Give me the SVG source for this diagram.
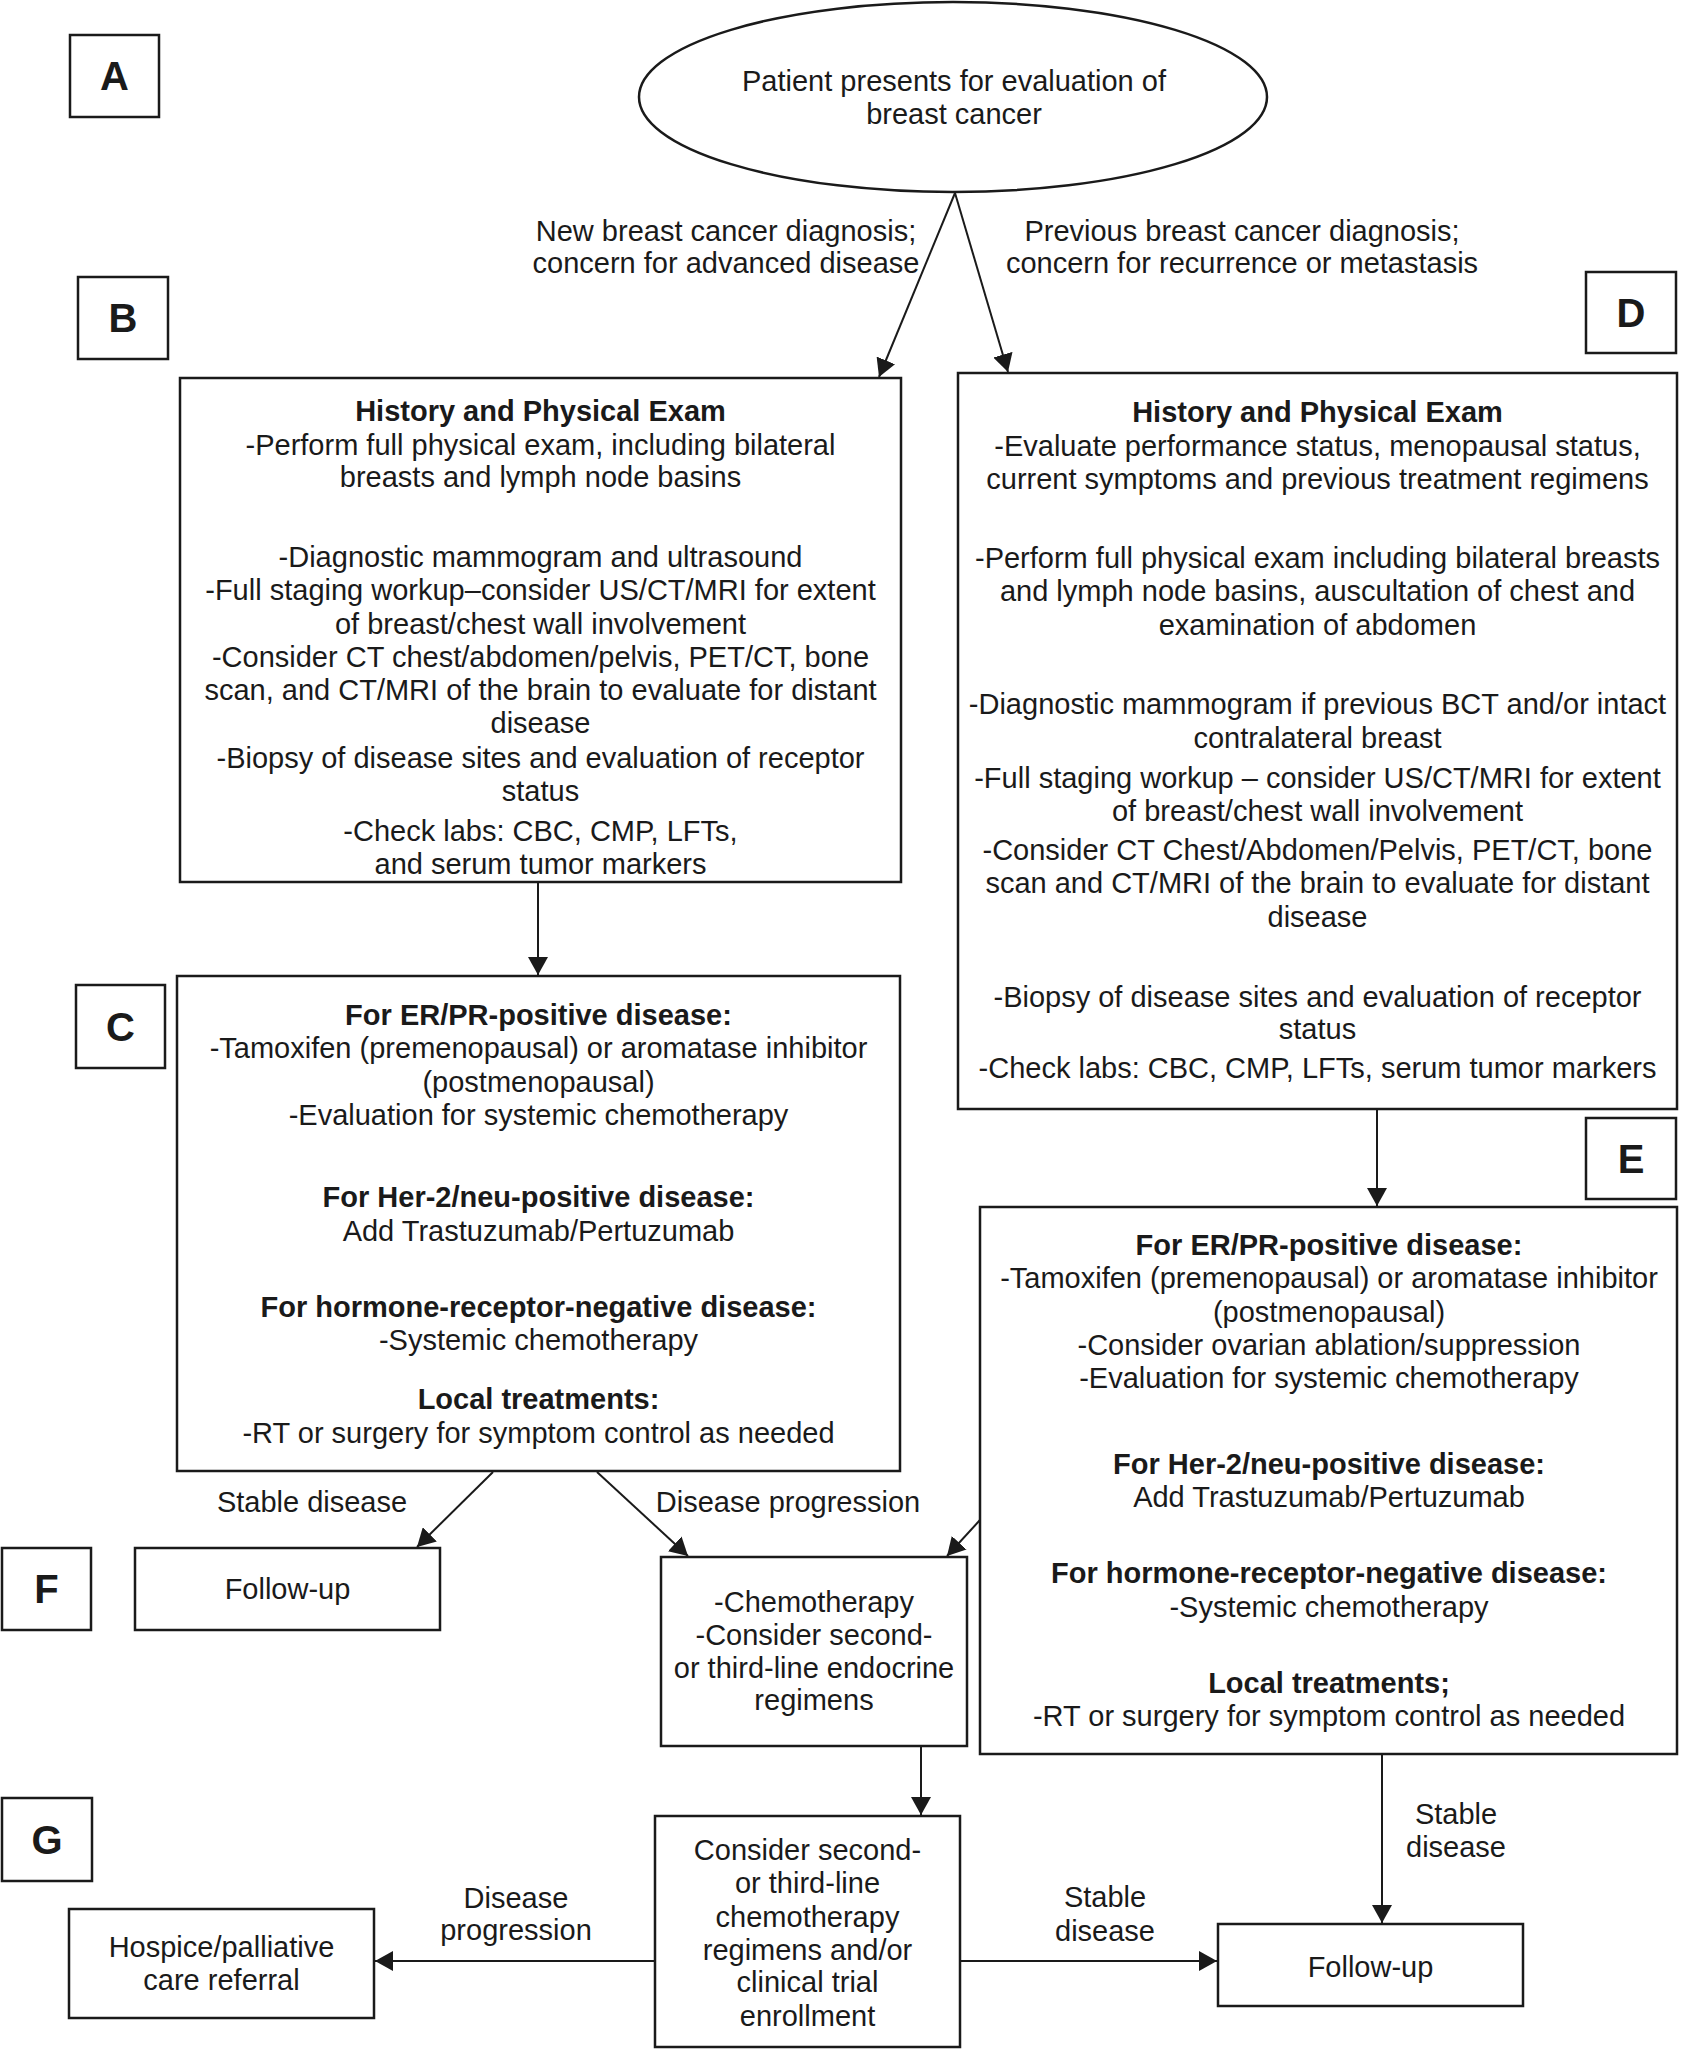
<svg xmlns="http://www.w3.org/2000/svg" width="1684" height="2050" viewBox="0 0 1684 2050">
<style>
  .bg{fill:#fff}
  .box{fill:#fff;stroke:#1a1a1a;stroke-width:2.5}
  .lbl{fill:#fff;stroke:#1a1a1a;stroke-width:2.5}
  text{font-family:"Liberation Sans",Arial,Helvetica,sans-serif;font-size:29px;fill:#1a1a1a;text-anchor:middle}
  .b{font-weight:bold}
  .L{font-weight:bold;font-size:40px}
  .con{stroke:#1a1a1a;stroke-width:2;fill:none;marker-end:url(#ah)}
</style>
<defs>
  <marker id="ah" viewBox="0 0 18 20" refX="18" refY="10" markerWidth="18" markerHeight="20" orient="auto" markerUnits="userSpaceOnUse">
    <path d="M0,0 L18,10 L0,20 z" fill="#1a1a1a"/>
  </marker>
</defs>
<rect class="bg" x="0" y="0" width="1684" height="2050"/>

<g id="label-A"><rect class="lbl" x="70" y="35" width="89" height="82"/><text class="L" x="114.5" y="90">A</text></g>
<g id="label-B"><rect class="lbl" x="78" y="277" width="90" height="82"/><text class="L" x="123" y="332">B</text></g>
<g id="label-C"><rect class="lbl" x="76" y="985" width="89" height="83"/><text class="L" x="120.5" y="1041">C</text></g>
<g id="label-D"><rect class="lbl" x="1586" y="272" width="90" height="81"/><text class="L" x="1631" y="327">D</text></g>
<g id="label-E"><rect class="lbl" x="1586" y="1118" width="90" height="81"/><text class="L" x="1631" y="1173">E</text></g>
<g id="label-F"><rect class="lbl" x="2" y="1548" width="89" height="82"/><text class="L" x="46.5" y="1603">F</text></g>
<g id="label-G"><rect class="lbl" x="2" y="1798" width="90" height="83"/><text class="L" x="47" y="1854">G</text></g>

<g id="start">
  <ellipse class="box" cx="953" cy="97" rx="314" ry="95"/>
  <text x="954" y="91">Patient presents for evaluation of</text>
  <text x="954" y="124">breast cancer</text>
</g>

<g id="box-B">
  <rect class="box" x="180" y="378" width="721" height="504"/>
  <text class="b" x="540.5" y="421">History and Physical Exam</text>
  <text x="540.5" y="455">-Perform full physical exam, including bilateral</text>
  <text x="540.5" y="487">breasts and lymph node basins</text>
  <text x="540.5" y="567">-Diagnostic mammogram and ultrasound</text>
  <text x="540.5" y="600">-Full staging workup–consider US/CT/MRI for extent</text>
  <text x="540.5" y="634">of breast/chest wall involvement</text>
  <text x="540.5" y="667">-Consider CT chest/abdomen/pelvis, PET/CT, bone</text>
  <text x="540.5" y="700">scan, and CT/MRI of the brain to evaluate for distant</text>
  <text x="540.5" y="733">disease</text>
  <text x="540.5" y="768">-Biopsy of disease sites and evaluation of receptor</text>
  <text x="540.5" y="801">status</text>
  <text x="540.5" y="841">-Check labs: CBC, CMP, LFTs,</text>
  <text x="540.5" y="874">and serum tumor markers</text>
</g>

<g id="box-D">
  <rect class="box" x="958" y="373" width="719" height="736"/>
  <text class="b" x="1317.5" y="422">History and Physical Exam</text>
  <text x="1317.5" y="456">-Evaluate performance status, menopausal status,</text>
  <text x="1317.5" y="489">current symptoms and previous treatment regimens</text>
  <text x="1317.5" y="568">-Perform full physical exam including bilateral breasts</text>
  <text x="1317.5" y="601">and lymph node basins, auscultation of chest and</text>
  <text x="1317.5" y="635">examination of abdomen</text>
  <text x="1317.5" y="714">-Diagnostic mammogram if previous BCT and/or intact</text>
  <text x="1317.5" y="748">contralateral breast</text>
  <text x="1317.5" y="788">-Full staging workup – consider US/CT/MRI for extent</text>
  <text x="1317.5" y="821">of breast/chest wall involvement</text>
  <text x="1317.5" y="860">-Consider CT Chest/Abdomen/Pelvis, PET/CT, bone</text>
  <text x="1317.5" y="893">scan and CT/MRI of the brain to evaluate for distant</text>
  <text x="1317.5" y="927">disease</text>
  <text x="1317.5" y="1007">-Biopsy of disease sites and evaluation of receptor</text>
  <text x="1317.5" y="1039">status</text>
  <text x="1317.5" y="1078">-Check labs: CBC, CMP, LFTs, serum tumor markers</text>
</g>

<g id="box-C">
  <rect class="box" x="177" y="976" width="723" height="495"/>
  <text class="b" x="538.5" y="1025">For ER/PR-positive disease:</text>
  <text x="538.5" y="1058">-Tamoxifen (premenopausal) or aromatase inhibitor</text>
  <text x="538.5" y="1092">(postmenopausal)</text>
  <text x="538.5" y="1125">-Evaluation for systemic chemotherapy</text>
  <text class="b" x="538.5" y="1207">For Her-2/neu-positive disease:</text>
  <text x="538.5" y="1241">Add Trastuzumab/Pertuzumab</text>
  <text class="b" x="538.5" y="1317">For hormone-receptor-negative disease:</text>
  <text x="538.5" y="1350">-Systemic chemotherapy</text>
  <text class="b" x="538.5" y="1409">Local treatments:</text>
  <text x="538.5" y="1443">-RT or surgery for symptom control as needed</text>
</g>

<g id="box-E">
  <rect class="box" x="980" y="1207" width="697" height="547"/>
  <text class="b" x="1329" y="1255">For ER/PR-positive disease:</text>
  <text x="1329" y="1288">-Tamoxifen (premenopausal) or aromatase inhibitor</text>
  <text x="1329" y="1322">(postmenopausal)</text>
  <text x="1329" y="1355">-Consider ovarian ablation/suppression</text>
  <text x="1329" y="1388">-Evaluation for systemic chemotherapy</text>
  <text class="b" x="1329" y="1474">For Her-2/neu-positive disease:</text>
  <text x="1329" y="1507">Add Trastuzumab/Pertuzumab</text>
  <text class="b" x="1329" y="1583">For hormone-receptor-negative disease:</text>
  <text x="1329" y="1617">-Systemic chemotherapy</text>
  <text class="b" x="1329" y="1693">Local treatments;</text>
  <text x="1329" y="1726">-RT or surgery for symptom control as needed</text>
</g>

<g id="followup-F">
  <rect class="box" x="135" y="1548" width="305" height="82"/>
  <text x="287.5" y="1599">Follow-up</text>
</g>

<g id="chemo">
  <rect class="box" x="661" y="1557" width="306" height="189"/>
  <text x="814" y="1612">-Chemotherapy</text>
  <text x="814" y="1645">-Consider second-</text>
  <text x="814" y="1678">or third-line endocrine</text>
  <text x="814" y="1710">regimens</text>
</g>

<g id="second-line">
  <rect class="box" x="655" y="1816" width="305" height="231"/>
  <text x="807.5" y="1860">Consider second-</text>
  <text x="807.5" y="1893">or third-line</text>
  <text x="807.5" y="1927">chemotherapy</text>
  <text x="807.5" y="1960">regimens and/or</text>
  <text x="807.5" y="1992">clinical trial</text>
  <text x="807.5" y="2026">enrollment</text>
</g>

<g id="hospice">
  <rect class="box" x="69" y="1909" width="305" height="109"/>
  <text x="221.5" y="1957">Hospice/palliative</text>
  <text x="221.5" y="1990">care referral</text>
</g>

<g id="followup-G">
  <rect class="box" x="1218" y="1924" width="305" height="82"/>
  <text x="1370.5" y="1977">Follow-up</text>
</g>

<g id="connectors">
  <line class="con" x1="955" y1="193" x2="879" y2="377"/>
  <line class="con" x1="955" y1="193" x2="1008" y2="372"/>
  <line class="con" x1="538" y1="882" x2="538" y2="975"/>
  <line class="con" x1="1377" y1="1109" x2="1377" y2="1206"/>
  <line class="con" x1="493" y1="1472" x2="417" y2="1547"/>
  <line class="con" x1="597" y1="1472" x2="688" y2="1556"/>
  <line class="con" x1="980" y1="1520" x2="947" y2="1556"/>
  <line class="con" x1="921" y1="1746" x2="921" y2="1815"/>
  <line class="con" x1="655" y1="1961" x2="375" y2="1961"/>
  <line class="con" x1="960" y1="1961" x2="1217" y2="1961"/>
  <line class="con" x1="1382" y1="1754" x2="1382" y2="1923"/>
  <g id="connector-labels">
    <text x="726" y="241">New breast cancer diagnosis;</text>
    <text x="726" y="273">concern for advanced disease</text>
    <text x="1242" y="241">Previous breast cancer diagnosis;</text>
    <text x="1242" y="273">concern for recurrence or metastasis</text>
    <text x="312" y="1512">Stable disease</text>
    <text x="788" y="1512">Disease progression</text>
    <text x="516" y="1908">Disease</text>
    <text x="516" y="1940">progression</text>
    <text x="1105" y="1907">Stable</text>
    <text x="1105" y="1941">disease</text>
    <text x="1456" y="1824">Stable</text>
    <text x="1456" y="1857">disease</text>
  </g>
</g>
</svg>
